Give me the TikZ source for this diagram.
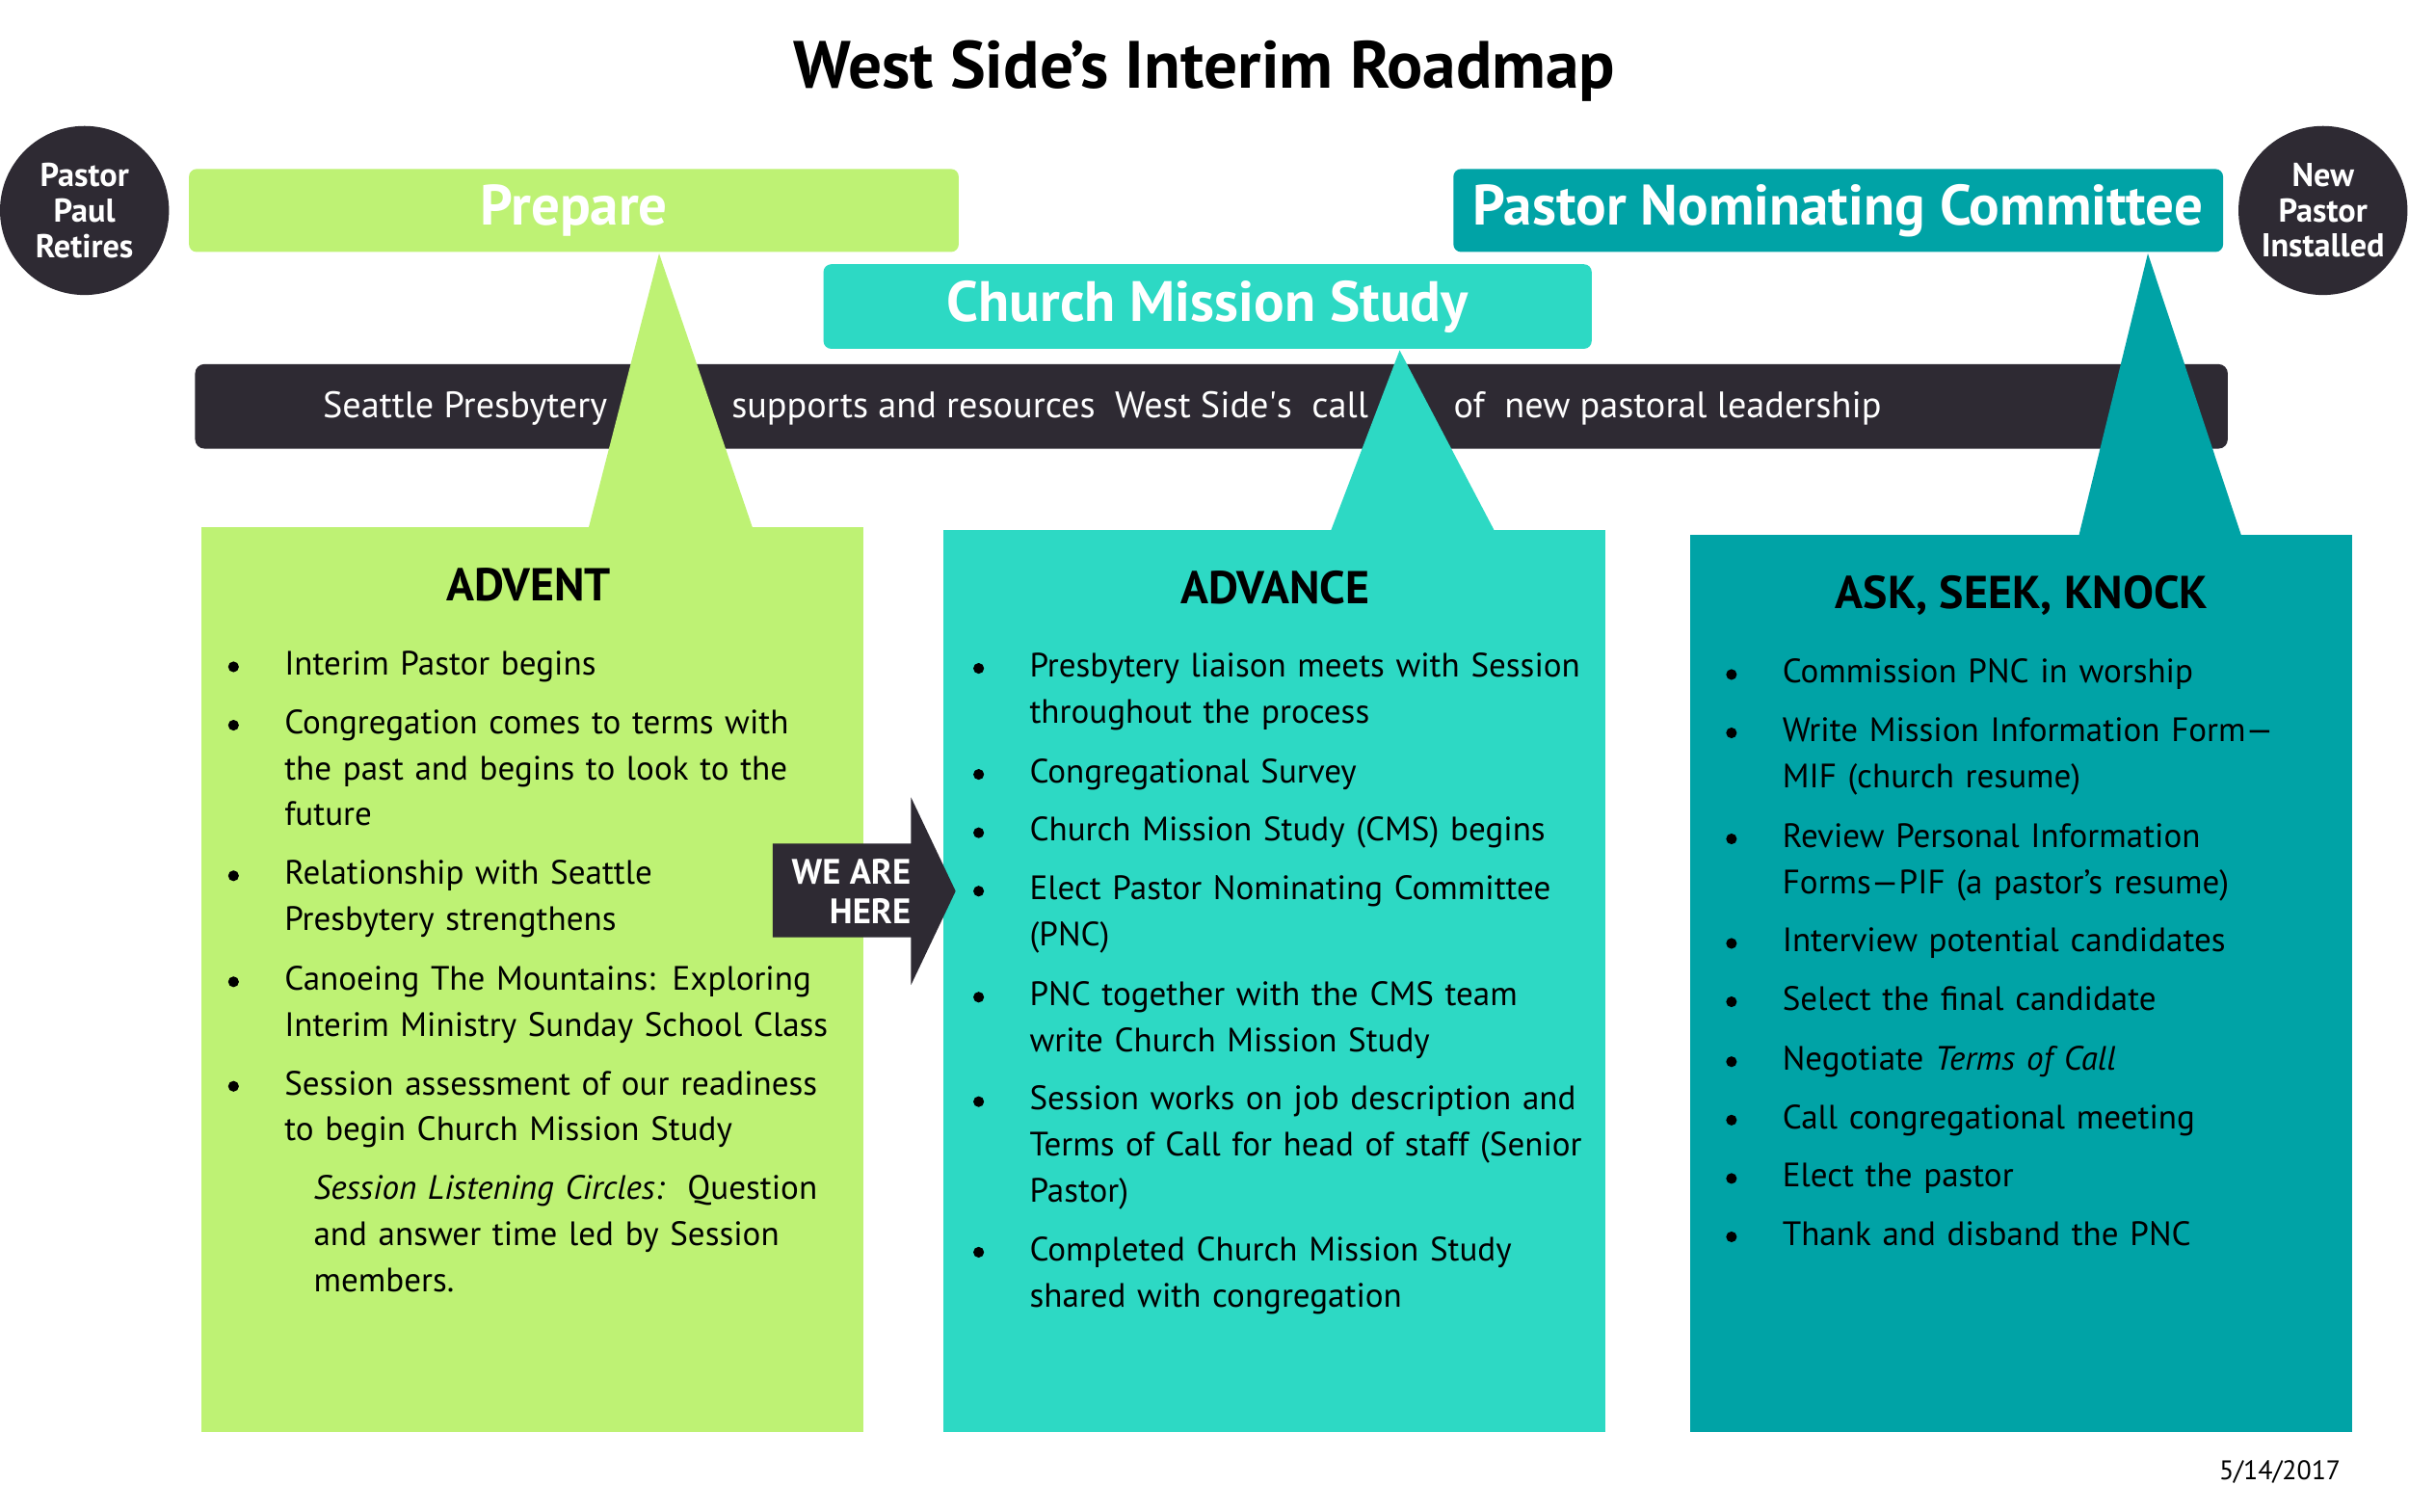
\documentclass[tikz,border=0pt]{standalone}
\usepackage{fontspec}
\setmainfont{PT Sans}
\usepackage{tikz}
\usetikzlibrary{positioning}
\usepackage{xcolor}
\definecolor{prepgreen}{HTML}{BEF274}
\definecolor{cmsteal}{HTML}{2DD9C4}
\definecolor{pncteal}{HTML}{00A3A6}
\definecolor{ink}{HTML}{2E2A33}
\newcommand{\itemfont}{\fontsize{22}{30}\selectfont}
\newcommand{\phasefont}{\fontsize{37}{40}\selectfont\bfseries}
\newcommand{\colheadfont}{\fontsize{30}{32}\selectfont\bfseries}
\newcommand{\circfont}{\fontsize{21.5}{23}\selectfont\bfseries}
\newcommand{\barfont}{\fontsize{24}{28}\selectfont}
\newcommand{\roadtitlefont}{\fontsize{43.5}{46}\selectfont\bfseries}

\begin{document}
\begin{tikzpicture}[x=1pt, y=-1pt,
		phase/.style={rounded corners=5pt, text=white, font=\phasefont, minimum height=54pt, inner sep=0pt},
		milestone/.style={circle, fill=ink, text=white, minimum size=110pt, inner sep=0pt, align=center, font=\circfont},
		column/.style={inner sep=0pt, minimum height=589pt, minimum width=431pt, anchor=south west},
		colhead/.style={anchor=base, font=\colheadfont},
		item/.style={anchor=base west, xshift=33pt, yshift=-5.5pt, text width=400pt, align=left, inner sep=0pt, font=\itemfont},
		bartext/.style={anchor=base west, text=white, font=\barfont, inner sep=0pt}]
	\useasboundingbox (0, 0) rectangle (1568, 984);
	\fill[white] (0, 0) rectangle (1568, 984);
	\node[font=\roadtitlefont] (title) at (784, 46) {West Side’s Interim Roadmap};
	\node[milestone] (retires) at (55, 137) {Pastor\\Paul\\Retires};
	\node[milestone] (installed) at (1512, 137) {New\\Pastor\\Installed};
	\node[phase, fill=prepgreen, minimum width=501pt] (prepare) at (373.5, 137) {Prepare};
	\node[phase, fill=cmsteal, minimum width=500pt, minimum height=55pt] (cms) at (786, 199.5) {Church Mission Study};
	\node[phase, fill=pncteal, minimum width=501pt] (pnc) at (1196.5, 137) {Pastor Nominating Committee};
	\fill[ink, rounded corners=6pt] (127, 237) rectangle (1450, 292);
	\node[bartext] (seattle) at (210, 272) {Seattle Presbytery};
	\node[bartext] (supports) at (476, 272) {supports and resources\ \ West Side\textquotesingle s\ \ call};
	\node[bartext] (leadership) at (946, 272) {of\ \ new pastoral leadership};
	\fill[prepgreen] (429, 165) -- (383, 344) -- (490, 344) -- cycle;
	\fill[cmsteal] (911, 228) -- (866, 346) -- (973, 346) -- cycle;
	\fill[pncteal] (1398, 165) -- (1353, 349) -- (1459, 349) -- cycle;
	\node[column, fill=prepgreen] (advent) at (131, 932) {};
	\node[column, fill=cmsteal, minimum height=587pt] (advance) at (614, 932) {};
	\node[column, fill=pncteal, minimum height=584pt] (asknock) at (1100, 932) {};
	\fill[ink] (503, 549) -- (593, 549) -- (593, 519) -- (622, 580) -- (593, 641) -- (593, 610) -- (503, 610) -- cycle;
	\node[anchor=east, align=right, text=white, font=\fontsize{23}{26}\selectfont\bfseries, inner sep=0pt] (here) at (593, 580) {WE ARE\\HERE};

	\node[colhead] (adventhead) at (344, 391) {ADVENT};
	\fill (152, 434) circle (3.5pt) node[item] (adv1) {Interim Pastor begins};
	\fill (152, 472) circle (3.5pt) node[item] (adv2) {Congregation comes to terms with\\the past and begins to look to the\\future};
	\fill (152, 570) circle (3.5pt) node[item] (adv3) {Relationship with Seattle\\Presbytery strengthens};
	\fill (152, 639) circle (3.5pt) node[item] (adv4) {Canoeing The Mountains: Exploring\\Interim Ministry Sunday School Class};
	\fill (152, 707) circle (3.5pt) node[item] (adv5) {Session assessment of our readiness\\to begin Church Mission Study};
	\node[item] (circles) at (171, 775) {\textit{Session Listening Circles:}\ \ Question\\and answer time led by Session\\members.};

	\node[colhead] (advancehead) at (830, 393) {ADVANCE};
	\fill (637, 435) circle (3.5pt) node[item] (adc1) {Presbytery liaison meets with Session\\throughout the process};
	\fill (637, 504) circle (3.5pt) node[item] (adc2) {Congregational Survey};
	\fill (637, 542) circle (3.5pt) node[item] (adc3) {Church Mission Study (CMS) begins};
	\fill (637, 580) circle (3.5pt) node[item] (adc4) {Elect Pastor Nominating Committee\\(PNC)};
	\fill (637, 649) circle (3.5pt) node[item] (adc5) {PNC together with the CMS team\\write Church Mission Study};
	\fill (637, 717) circle (3.5pt) node[item] (adc6) {Session works on job description and\\Terms of Call for head of staff (Senior\\Pastor)};
	\fill (637, 815) circle (3.5pt) node[item] (adc7) {Completed Church Mission Study\\shared with congregation};

	\node[colhead] (askhead) at (1316, 396) {ASK, SEEK, KNOCK};
	\fill (1127, 439) circle (3.5pt) node[item] (ask1) {Commission PNC in worship};
	\fill (1127, 477) circle (3.5pt) node[item] (ask2) {Write Mission Information Form—\\MIF (church resume)};
	\fill (1127, 546) circle (3.5pt) node[item] (ask3) {Review Personal Information\\Forms—PIF (a pastor’s resume)};
	\fill (1127, 614) circle (3.5pt) node[item] (ask4) {Interview potential candidates};
	\fill (1127, 652) circle (3.5pt) node[item] (ask5) {Select the final candidate};
	\fill (1127, 691) circle (3.5pt) node[item] (ask6) {Negotiate \textit{Terms of Call}};
	\fill (1127, 729) circle (3.5pt) node[item] (ask7) {Call congregational meeting};
	\fill (1127, 767) circle (3.5pt) node[item] (ask8) {Elect the pastor};
	\fill (1127, 805) circle (3.5pt) node[item] (ask9) {Thank and disband the PNC};

	\node[font=\fontsize{17.5}{20}\selectfont] (date) at (1484, 958) {5/14/2017};
\end{tikzpicture}
\end{document}
